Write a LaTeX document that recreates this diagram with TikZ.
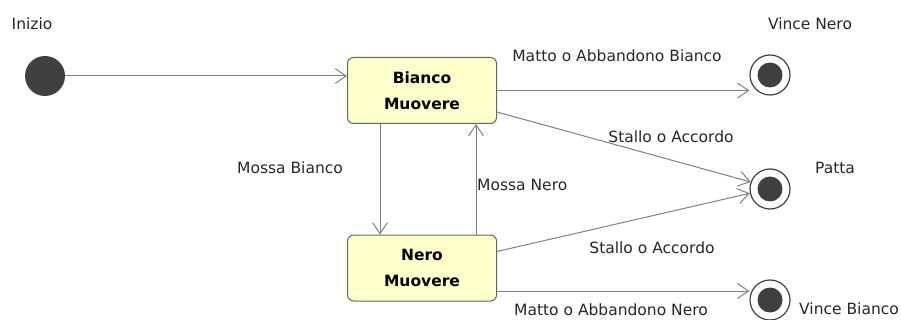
\documentclass[tikz,border=0pt]{standalone}
\usepackage{fontspec}
\setmainfont{DejaVu Sans}
\usetikzlibrary{arrows.meta,calc}
\definecolor{statofill}{RGB}{255,255,204}
\definecolor{scuro}{RGB}{64,64,64}
\definecolor{linea}{RGB}{128,128,128}

\begin{document}
\begin{tikzpicture}[x=1pt,y=-1pt,font=\fontsize{15.5}{26}\selectfont,
	every edge/.style={draw,linea,line width=1pt,-{Straight Barb[length=11pt,width=15pt]}}]
	\useasboundingbox (0,0) rectangle (901,320);
	% stati
	\begin{scope}[every node/.style={draw=black!60,fill=statofill,line width=1pt,
		rounded corners=6pt,minimum width=149pt,minimum height=66pt,align=center,
		font=\fontsize{15.5}{26}\selectfont\bfseries}]
	\node (B) at (422,90.5) {Bianco\\Muovere};
	\node (N) at (422,268) {Nero\\Muovere};
	\end{scope}
	% stati finali
	\begin{scope}[every node/.style={circle,draw=black!75,fill=white,line width=1.2pt,
		inner sep=0pt,minimum size=40pt,
		path picture={\fill[scuro] (path picture bounding box.center) circle (12.5pt);}}]
	\node (VN) at (770,75) {};
	\node (P) at (770,189) {};
	\node (VB) at (770,300) {};
	\end{scope}
	\node[circle,fill=scuro,inner sep=0pt,minimum size=40pt] (start) at (45,76) {};
	
	\coordinate (b1) at ($(B.east)+(0,21.5)$);
	\coordinate (n1) at ($(N.east)+(0,-16.5)$);
	\coordinate (n2) at ($(N.east)+(0,23)$);
	\coordinate (mb) at ($(B.south)+(-42,0)$);
	\coordinate (mn) at ($(N.north)+(54,0)$);
	
	\path (start) edge (start -| B.west);
	\path (B.east) edge (B.east -| VN.west);
	\path (b1) edge (P.160);
	\path (n1) edge (P.192);
	\path (n2) edge (n2 -| VB.west);
	\path (mb) edge (mb |- N.north);
	\path (mn) edge (mn |- B.south);
	
	% etichette
	\begin{scope}[every node/.style={text=black!85,inner sep=0pt}]
	\node (inizio) at (32,24) {Inizio};
	\node (tvn) at (810,24) {Vince Nero};
	\node (tpatta) at (835,168) {Patta};
	\node (tvb) at (849,309) {Vince Bianco};
	\node (mab) at (617,56) {Matto o Abbandono Bianco};
	\node (sa1) at (671,137) {Stallo o Accordo};
	\node (sa2) at (652,248) {Stallo o Accordo};
	\node (man) at (611,310) {Matto o Abbandono Nero};
	\node (mossab) at (290,168) {Mossa Bianco};
	\node[anchor=west] (mossan) at (477,185) {Mossa Nero};
	\end{scope}
\end{tikzpicture}
\end{document}
